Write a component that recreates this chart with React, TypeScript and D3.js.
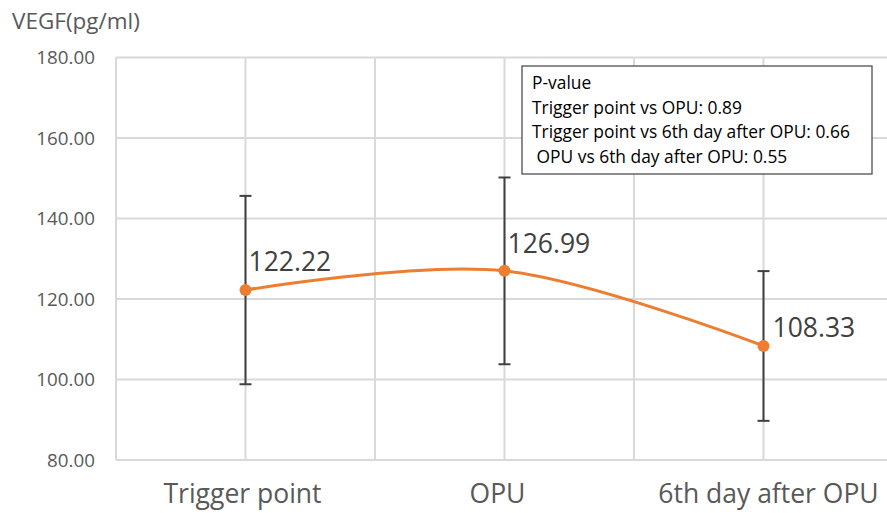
import React, { useEffect, useRef } from 'react';
import * as d3 from 'd3';

const categories = ['Trigger point', 'OPU', '6th day after OPU'];
const means = [122.22, 126.99, 108.33];
const errors = [23.4, 23.2, 18.6];
const yTicks = [80, 100, 120, 140, 160, 180];
const pValueLines = [
  'P-value',
  'Trigger point vs OPU: 0.89',
  'Trigger point vs 6th day after OPU: 0.66',
  ' OPU vs 6th day after OPU: 0.55',
];

const FONT = "'Open Sans', Lato, sans-serif";
const TEXT = '#595959';
const GRID = '#d9d9d9';
const ORANGE = '#ED7D31';

export default function App() {
  const svgRef = useRef<SVGSVGElement>(null);
  const width = 887;
  const height = 513;

  useEffect(() => {
    const svg = d3.select(svgRef.current);
    svg.selectAll('*').remove();

    const x = d3.scaleBand<string>().domain(categories).range([116, 893]).padding(0);
    const y = d3.scaleLinear().domain([80, 180]).range([460, 57.5]);
    const cx = (c: string) => (x(c) as number) + x.bandwidth() / 2;

    // horizontal gridlines
    svg.append('g')
      .selectAll('line')
      .data(yTicks)
      .enter()
      .append('line')
      .attr('x1', 116)
      .attr('x2', 893)
      .attr('y1', d => y(d))
      .attr('y2', d => y(d))
      .attr('stroke', GRID)
      .attr('stroke-width', 2);

    // vertical gridlines (band edges and centers)
    const vx: number[] = [];
    categories.forEach(c => {
      vx.push(x(c) as number);
      vx.push(cx(c));
    });
    svg.append('g')
      .selectAll('line')
      .data(vx)
      .enter()
      .append('line')
      .attr('x1', d => d)
      .attr('x2', d => d)
      .attr('y1', y(180))
      .attr('y2', y(80))
      .attr('stroke', GRID)
      .attr('stroke-width', 2);

    // y tick labels
    svg.append('g')
      .selectAll('text')
      .data(yTicks)
      .enter()
      .append('text')
      .attr('x', 95)
      .attr('y', d => y(d))
      .attr('dy', '0.35em')
      .attr('text-anchor', 'end')
      .style('font-family', FONT)
      .style('font-size', '18.8px')
      .style('fill', TEXT)
      .text(d => d.toFixed(2));

    // axis title
    svg.append('text')
      .attr('x', 12)
      .attr('y', 29)
      .style('font-family', FONT)
      .style('font-size', '22.5px')
      .style('fill', TEXT)
      .text('VEGF(pg/ml)');

    // x labels (small nudges to sit like the original)
    const labelNudge = [-3, -7, 5];
    svg.append('g')
      .selectAll('text')
      .data(categories)
      .enter()
      .append('text')
      .attr('x', (d, i) => cx(d) + labelNudge[i])
      .attr('y', 503)
      .attr('text-anchor', 'middle')
      .style('font-family', FONT)
      .style('font-size', '26.5px')
      .style('fill', TEXT)
      .text(d => d);

    // error bars
    const eb = svg.append('g')
      .selectAll('g')
      .data(categories)
      .enter()
      .append('g');
    eb.append('line')
      .attr('x1', d => cx(d))
      .attr('x2', d => cx(d))
      .attr('y1', (d, i) => y(means[i] + errors[i]))
      .attr('y2', (d, i) => y(means[i] - errors[i]))
      .attr('stroke', '#404040')
      .attr('stroke-width', 2);
    [1, -1].forEach(s => {
      eb.append('line')
        .attr('x1', d => cx(d) - 6)
        .attr('x2', d => cx(d) + 6)
        .attr('y1', (d, i) => y(means[i] + s * errors[i]))
        .attr('y2', (d, i) => y(means[i] + s * errors[i]))
        .attr('stroke', '#404040')
        .attr('stroke-width', 2);
    });

    // smoothed line
    const line = d3.line<number>()
      .x((d, i) => cx(categories[i]))
      .y(d => y(d))
      .curve(d3.curveCardinal.tension(0));
    svg.append('path')
      .attr('d', line(means) || '')
      .attr('fill', 'none')
      .attr('stroke', ORANGE)
      .attr('stroke-width', 3);

    svg.append('g')
      .selectAll('circle')
      .data(means)
      .enter()
      .append('circle')
      .attr('cx', (d, i) => cx(categories[i]))
      .attr('cy', d => y(d))
      .attr('r', 6)
      .attr('fill', ORANGE);

    // data labels
    const labelDy = [-19, -18, -9];
    svg.append('g')
      .selectAll('text')
      .data(means)
      .enter()
      .append('text')
      .attr('x', (d, i) => cx(categories[i]) + (i === 2 ? 9 : 3))
      .attr('y', (d, i) => y(d) + labelDy[i])
      .style('font-family', FONT)
      .style('font-size', '26.5px')
      .style('fill', '#404040')
      .text(d => d.toFixed(2));

    // p-value box
    svg.append('rect')
      .attr('x', 522)
      .attr('y', 66)
      .attr('width', 350)
      .attr('height', 108)
      .attr('fill', 'white')
      .attr('stroke', '#404040')
      .attr('stroke-width', 1.2);
    svg.append('g')
      .selectAll('text')
      .data(pValueLines)
      .enter()
      .append('text')
      .attr('x', 532)
      .attr('y', (d, i) => 89 + i * 24.5)
      .attr('xml:space', 'preserve')
      .style('white-space', 'pre')
      .style('font-family', FONT)
      .style('font-size', '17.4px')
      .style('fill', '#000')
      .text(d => d);
  }, []);

  return (
    <svg
      ref={svgRef}
      width={width}
      height={height}
      style={{ position: 'absolute', left: 0, top: 0, background: 'white' }}
    ></svg>
  );
}
